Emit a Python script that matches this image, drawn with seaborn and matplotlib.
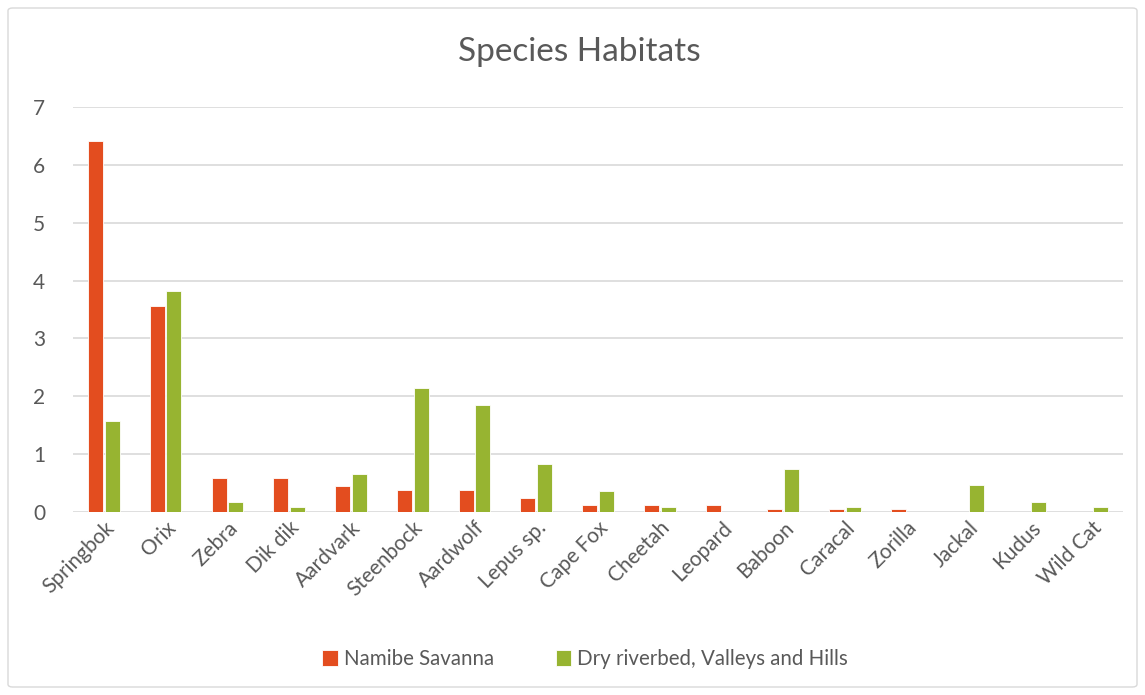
import matplotlib
matplotlib.use("Agg")
import matplotlib.pyplot as plt
import seaborn as sns
import pandas as pd
from matplotlib.patches import FancyBboxPatch

# Species observed and their relative frequency in each habitat
species = ["Springbok", "Orix", "Zebra", "Dik dik", "Aardvark", "Steenbock",
           "Aardwolf", "Lepus sp.", "Cape Fox", "Cheetah", "Leopard", "Baboon",
           "Caracal", "Zorilla", "Jackal", "Kudus", "Wild Cat"]
namibe_savanna = [6.42, 3.56, 0.58, 0.58, 0.45, 0.38, 0.38, 0.25, 0.12, 0.12,
                  0.12, 0.05, 0.05, 0.05, 0.0, 0.0, 0.0]
dry_riverbed = [1.58, 3.82, 0.17, 0.08, 0.65, 2.14, 1.85, 0.83, 0.36, 0.08,
                0.0, 0.74, 0.08, 0.0, 0.46, 0.17, 0.08]
habitats = ["Namibe Savanna", "Dry riverbed, Valleys and Hills"]
colors = ["#E34D1F", "#97B431"]

df = pd.DataFrame({
    "species": species * 2,
    "value": namibe_savanna + dry_riverbed,
    "habitat": [habitats[0]] * len(species) + [habitats[1]] * len(species),
})

sns.set_theme(style="white")
plt.rcParams["font.family"] = ["Lato", "DejaVu Sans"]
text_color = "#595959"

fig = plt.figure(figsize=(11.45, 6.95), dpi=100)
ax = fig.add_axes([73 / 1145, 1 - 512 / 695, 1050 / 1145, 405 / 695])

sns.barplot(data=df, x="species", y="value", hue="habitat", hue_order=habitats,
            palette=colors, width=0.54, gap=0.1, ax=ax, errorbar=None,
            edgecolor="white", linewidth=0.6, zorder=3, saturation=1)

ax.set_ylim(0, 7)
ax.set_xlim(-0.5, len(species) - 0.5)
ax.set_yticks(range(0, 8))
ax.yaxis.grid(True, color="#D9D9D9", linewidth=1.2, zorder=0)
ax.set_axisbelow(True)
for s in ax.spines.values():
    s.set_visible(False)
ax.set_xlabel("")
ax.set_ylabel("")
ax.tick_params(axis="both", length=0, colors=text_color, labelsize=15)
ax.tick_params(axis="y", pad=20)
ax.tick_params(axis="x", pad=4)
for lbl in ax.get_xticklabels():
    lbl.set_rotation(45)
    lbl.set_ha("right")
    lbl.set_rotation_mode("anchor")
    lbl.set_color(text_color)

fig.text(0.506, 1 - 52 / 695, "Species Habitats", ha="center", va="center",
         fontsize=24, color=text_color)

leg = ax.legend(loc="center", bbox_to_anchor=(0.511, 1 - 659 / 695),
                bbox_transform=fig.transFigure, ncol=2, frameon=False,
                fontsize=14.8, handlelength=0.75, handleheight=0.8,
                handletextpad=0.3, columnspacing=3.0)
for t in leg.get_texts():
    t.set_color(text_color)

border = FancyBboxPatch((8 / 1145, 8 / 695), 1 - 16 / 1145, 1 - 16 / 695,
                        boxstyle="round,pad=0,rounding_size=0.004",
                        transform=fig.transFigure, facecolor="none",
                        edgecolor="#D9D9D9", linewidth=1.0)
fig.patches.append(border)

fig.savefig("out.png", dpi=100)
